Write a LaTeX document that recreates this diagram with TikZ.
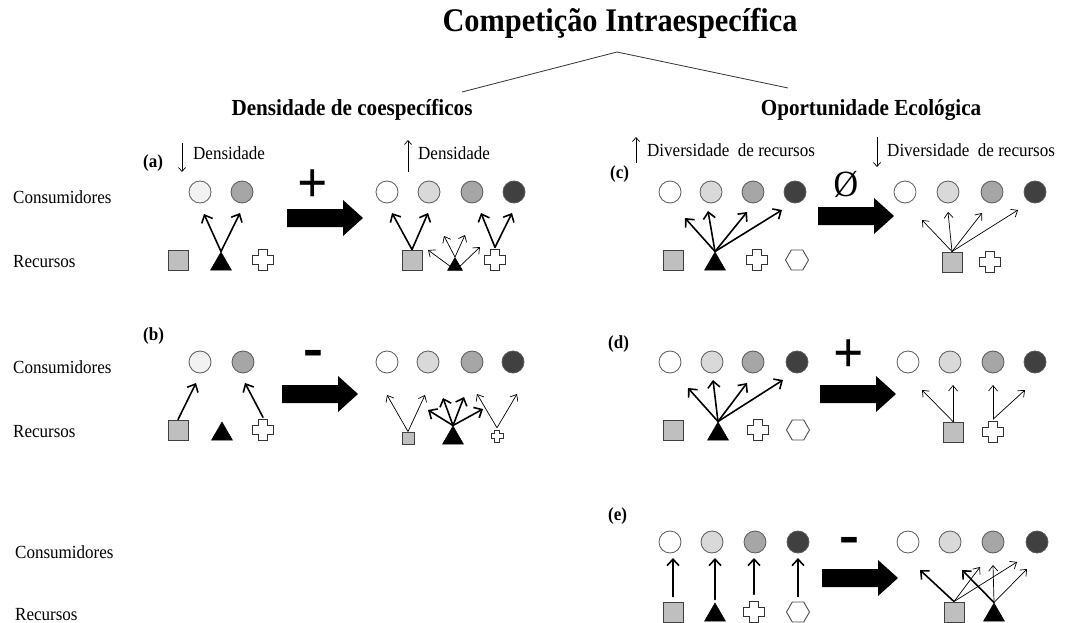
\documentclass[tikz,border=0pt]{standalone}
\usepackage{fontspec}
\setmainfont{Liberation Serif}[FakeStretch=0.92]
\usetikzlibrary{shapes.geometric,arrows.meta,calc}
\definecolor{cF2}{HTML}{F2F2F2}
\definecolor{cD9}{HTML}{D9D9D9}
\definecolor{cA6}{HTML}{A6A6A6}
\definecolor{c40}{HTML}{404040}
\definecolor{sqfill}{HTML}{BFBFBF}
\definecolor{edge}{HTML}{595959}
\begin{document}
\begin{tikzpicture}[x=1pt,y=-1pt,
  cons/.style={circle, draw=edge, line width=0.8, minimum size=22, inner sep=0},
  sq/.style={rectangle, draw=c40, fill=sqfill, line width=0.9, minimum size=#1, inner sep=0},
  sq/.default=20,
  tri/.style={regular polygon, regular polygon sides=3, fill=black, draw=black, line width=0.5, minimum size=#1, inner sep=0},
  tri/.default=24,
  hex/.style={regular polygon, regular polygon sides=6, draw=black!70, fill=white, line width=0.9, minimum size=23, inner sep=0},
  crs/.style={rectangle, inner sep=0, minimum size=#1+4, path picture={
     \draw[line width=1, draw=black!80, fill=white] ([shift={(-0.2*#1,-0.5*#1)}]path picture bounding box.center)
       -- ++(0.4*#1,0) -- ++(0,0.3*#1) -- ++(0.3*#1,0) -- ++(0,0.4*#1) -- ++(-0.3*#1,0)
       -- ++(0,0.3*#1) -- ++(-0.4*#1,0) -- ++(0,-0.3*#1) -- ++(-0.3*#1,0) -- ++(0,-0.4*#1)
       -- ++(0.3*#1,0) -- cycle;}},
  crs/.default=21,
  barrow/.style={-{Straight Barb[length=6.5pt,width=12pt]}, line width=1.6, line cap=round},
  tarrow/.style={-{Straight Barb[length=5.5pt,width=9pt]}, line width=0.7},
  larrow/.style={-{Straight Barb[length=4pt,width=7pt]}, line width=0.7},
  txt/.style={inner sep=0, font=\fontsize{18.5}{20}\selectfont},
  lbl/.style={inner sep=0, font=\fontsize{18.5}{20}\selectfont\bfseries},
  hdr/.style={inner sep=0, font=\fontsize{23}{25}\selectfont\bfseries},
  sym/.style={inner sep=0, font=\fontsize{58}{58}\selectfont\bfseries},
  msym/.style={inner sep=0, font=\fontsize{65}{65}\selectfont\bfseries},
  bigarr/.pic={\fill[black] (-38,-9) -- (18,-9) -- (18,-18) -- (38,0) -- (18,18) -- (18,9) -- (-38,9) -- cycle;}
]
\useasboundingbox (0,0) rectangle (1065,623);

% ---------- title and tree ----------
\node[inner sep=0, font=\fontsize{33}{36}\selectfont\bfseries, anchor=base] (title) at (620,32) {Competição Intraespecífica};
\coordinate (apex) at (617,52);
\coordinate (tlL) at (462,92);
\coordinate (tlR) at (788,88);
\draw[line width=0.8, black!80] (tlL) -- (apex) -- (tlR);
\node[hdr, anchor=base] (hL) at (352,116) {Densidade de coespecíficos};
\node[hdr, anchor=base] (hR) at (871,116) {Oportunidade Ecológica};

% ---------- row labels ----------
\node[txt, anchor=base west] (cons1) at (13,203) {Consumidores};
\node[txt, anchor=base west] (rec1) at (13,267) {Recursos};
\node[txt, anchor=base west] (cons2) at (13,373) {Consumidores};
\node[txt, anchor=base west] (rec2) at (13,437) {Recursos};
\node[txt, anchor=base west] (cons3) at (15,558) {Consumidores};
\node[txt, anchor=base west] (rec3) at (15,620) {Recursos};

% ---------- panel (a) ----------
\node[lbl, anchor=base west] (la) at (143,167) {(a)};
\node[txt, anchor=base west] (dA1) at (193,160) {Densidade};
\draw[larrow] ($(dA1.base west)+(-11,-17)$) -- ($(dA1.base west)+(-11,12)$);
\node[cons, fill=cF2] (aL1) at (200,192) {};
\node[cons, fill=cA6] (aL2) at (242,192) {};
\node[sq] (aLs) at (178,260) {};
\node[tri] (aLt) at (221,264) {};
\node[crs] (aLc) at (263,260) {};
\coordinate (aE1) at (204,214);
\coordinate (aE2) at (240,213);
\draw[barrow] (aLt.north) -- (aE1);
\draw[barrow] (aLt.north) -- (aE2);
\node[sym] (plusA) at (313,186) {+};
\pic at (325,218) {bigarr};
\node[txt, anchor=base west] (dA2) at (418,160) {Densidade};
\draw[larrow] ($(dA2.base west)+(-10,12)$) -- ($(dA2.base west)+(-10,-20)$);
\node[cons, fill=white] (aR1) at (387,192) {};
\node[cons, fill=cD9] (aR2) at (429,192) {};
\node[cons, fill=cA6] (aR3) at (472,192) {};
\node[cons, fill=c40] (aR4) at (514,192) {};
\node[sq] (aRs) at (412,260) {};
\node[tri=17] (aRt) at (455,266) {};
\node[crs] (aRc) at (495,260) {};
\coordinate (aF1) at (392,213);
\coordinate (aF2) at (428,213);
\coordinate (aF3) at (481,213);
\coordinate (aF4) at (512,213);
\draw[barrow] (aRs.north) -- (aF1);
\draw[barrow] (aRs.north) -- (aF2);
\draw[barrow] (aRc.north) -- (aF3);
\draw[barrow] (aRc.north) -- (aF4);
\coordinate (aG1) at (428,250);
\coordinate (aG2) at (444,236);
\coordinate (aG3) at (465,235);
\coordinate (aG4) at (480,247);
\draw[tarrow] (aRt.west) -- (aG1);
\draw[tarrow] (aRt.north) -- (aG2);
\draw[tarrow] (aRt.north) -- (aG3);
\draw[tarrow] (aRt.east) -- (aG4);

% ---------- panel (b) ----------
\node[lbl, anchor=base west] (lb) at (143,340) {(b)};
\node[cons, fill=cF2] (bL1) at (200,362) {};
\node[cons, fill=cA6] (bL2) at (243,362) {};
\node[sq] (bLs) at (178,430) {};
\node[tri] (bLt) at (222,434) {};
\node[crs] (bLc) at (263,430) {};
\coordinate (bE1) at (196,383);
\coordinate (bE2) at (245,383);
\draw[barrow] (bLs.north) -- (bE1);
\draw[barrow] (bLc.north) -- (bE2);
\node[msym] (minB) at (313,359) {-};
\pic at (320,394) {bigarr};
\node[cons, fill=white] (bR1) at (387,362) {};
\node[cons, fill=cD9] (bR2) at (428,362) {};
\node[cons, fill=cA6] (bR3) at (472,362) {};
\node[cons, fill=c40] (bR4) at (513,362) {};
\node[sq=12] (bRs) at (408,438) {};
\node[tri] (bRt) at (453,438) {};
\node[crs=12] (bRc) at (497,436) {};
\coordinate (bF1) at (387,395);
\coordinate (bF2) at (425,395);
\coordinate (bF3) at (477,394);
\coordinate (bF4) at (517,394);
\draw[tarrow] (bRs.north) -- (bF1);
\draw[tarrow] (bRs.north) -- (bF2);
\draw[tarrow] (bRc.north) -- (bF3);
\draw[tarrow] (bRc.north) -- (bF4);
\coordinate (bG1) at (428,410);
\coordinate (bG2) at (443,398);
\coordinate (bG3) at (464,397);
\coordinate (bG4) at (483,409);
\draw[barrow] (bRt.north) -- (bG1);
\draw[barrow] (bRt.north) -- (bG2);
\draw[barrow] (bRt.north) -- (bG3);
\draw[barrow] (bRt.north) -- (bG4);

% ---------- panel (c) ----------
\node[lbl, anchor=base west] (lc) at (610,178) {(c)};
\node[txt, anchor=base west] (dC1) at (647,157) {Diversidade~ de recursos};
\draw[larrow] ($(dC1.base west)+(-11,6)$) -- ($(dC1.base west)+(-11,-20)$);
\node[cons, fill=white] (cL1) at (670,192) {};
\node[cons, fill=cD9] (cL2) at (711,192) {};
\node[cons, fill=cA6] (cL3) at (753,192) {};
\node[cons, fill=c40] (cL4) at (795,192) {};
\node[sq] (cLs) at (673,260) {};
\node[tri] (cLt) at (715,264) {};
\node[crs] (cLc) at (757,260) {};
\node[hex] (cLh) at (797,260) {};
\coordinate (cE1) at (685,218);
\coordinate (cE2) at (708,211);
\coordinate (cE3) at (747,212);
\coordinate (cE4) at (782,210);
\draw[barrow] (cLt.north) -- (cE1);
\draw[barrow] (cLt.north) -- (cE2);
\draw[barrow] (cLt.north) -- (cE3);
\draw[barrow] (cLt.north) -- (cE4);
\node[inner sep=0, font=\fontsize{37}{37}\selectfont] (nullC) at (846,184) {Ø};
\pic at (856,216) {bigarr};
\node[txt, anchor=base west] (dC2) at (887,157) {Diversidade~ de recursos};
\draw[larrow] ($(dC2.base west)+(-10,-20)$) -- ($(dC2.base west)+(-10,10)$);
\node[cons, fill=white] (cR1) at (905,192) {};
\node[cons, fill=cD9] (cR2) at (948,192) {};
\node[cons, fill=cA6] (cR3) at (992,192) {};
\node[cons, fill=c40] (cR4) at (1035,192) {};
\node[sq] (cRs) at (952,262) {};
\node[crs] (cRc) at (990,262) {};
\coordinate (cF1) at (922,220);
\coordinate (cF2) at (948,212);
\coordinate (cF3) at (982,213);
\coordinate (cF4) at (1018,210);
\draw[tarrow] (cRs.north) -- (cF1);
\draw[tarrow] (cRs.north) -- (cF2);
\draw[tarrow] (cRs.north) -- (cF3);
\draw[tarrow] (cRs.north) -- (cF4);

% ---------- panel (d) ----------
\node[lbl, anchor=base west] (ld) at (608,348) {(d)};
\node[cons, fill=white] (dL1) at (670,362) {};
\node[cons, fill=cD9] (dL2) at (712,362) {};
\node[cons, fill=cA6] (dL3) at (753,362) {};
\node[cons, fill=c40] (dL4) at (797,362) {};
\node[sq] (dLs) at (673,430) {};
\node[tri] (dLt) at (718,434) {};
\node[crs] (dLc) at (758,430) {};
\node[hex] (dLh) at (798,430) {};
\coordinate (dE1) at (688,388);
\coordinate (dE2) at (713,380);
\coordinate (dE3) at (747,383);
\coordinate (dE4) at (783,380);
\draw[barrow] (dLt.north) -- (dE1);
\draw[barrow] (dLt.north) -- (dE2);
\draw[barrow] (dLt.north) -- (dE3);
\draw[barrow] (dLt.north) -- (dE4);
\node[sym] (plusD) at (849,356) {+};
\pic at (858,394) {bigarr};
\node[cons, fill=white] (dR1) at (908,362) {};
\node[cons, fill=cD9] (dR2) at (950,362) {};
\node[cons, fill=cA6] (dR3) at (993,362) {};
\node[cons, fill=c40] (dR4) at (1035,362) {};
\node[sq] (dRs) at (953,432) {};
\node[crs] (dRc) at (993,432) {};
\coordinate (dF1) at (922,390);
\coordinate (dF2) at (953,385);
\coordinate (dF3) at (993,385);
\coordinate (dF4) at (1025,390);
\draw[tarrow] (dRs.north) -- (dF1);
\draw[tarrow] (dRs.north) -- (dF2);
\draw[tarrow] (dRc.north) -- (dF3);
\draw[tarrow] (dRc.north) -- (dF4);

% ---------- panel (e) ----------
\node[lbl, anchor=base west] (le) at (608,520) {(e)};
\node[cons, fill=white] (eL1) at (670,542) {};
\node[cons, fill=cD9] (eL2) at (712,542) {};
\node[cons, fill=cA6] (eL3) at (755,542) {};
\node[cons, fill=c40] (eL4) at (798,542) {};
\node[sq] (eLs) at (673,612) {};
\node[tri] (eLt) at (715,615) {};
\node[crs] (eLc) at (754,612) {};
\node[hex] (eLh) at (798,612) {};
\coordinate (eE1) at (673,558);
\coordinate (eE2) at (715,558);
\coordinate (eE3) at (754,558);
\coordinate (eE4) at (798,558);
\draw[barrow, shorten <=5pt] (eLs.north) -- (eE1);
\draw[barrow, shorten <=3pt] (eLt.north) -- (eE2);
\draw[barrow, shorten <=5pt] (eLc.north) -- (eE3);
\draw[barrow, shorten <=5pt] (eLh.north) -- (eE4);
\node[msym] (minE) at (849,546) {-};
\pic at (860,578) {bigarr};
\node[cons, fill=white] (eR1) at (908,542) {};
\node[cons, fill=cD9] (eR2) at (950,542) {};
\node[cons, fill=cA6] (eR3) at (993,542) {};
\node[cons, fill=c40] (eR4) at (1037,542) {};
\node[sq] (eRs) at (954,612) {};
\node[tri] (eRt) at (994,615) {};
\coordinate (eF1) at (920,570);
\coordinate (eF2) at (980,567);
\coordinate (eF3) at (1017,562);
\coordinate (eG1) at (962,570);
\coordinate (eG2) at (993,565);
\coordinate (eG3) at (1027,569);
\draw[barrow] (eRs.north) -- (eF1);
\draw[tarrow] (eRs.north) -- (eF2);
\draw[tarrow] (eRs.north) -- (eF3);
\draw[barrow] (eRt.north) -- (eG1);
\draw[tarrow] (eRt.north) -- (eG2);
\draw[tarrow] (eRt.north) -- (eG3);
\end{tikzpicture}
\end{document}
